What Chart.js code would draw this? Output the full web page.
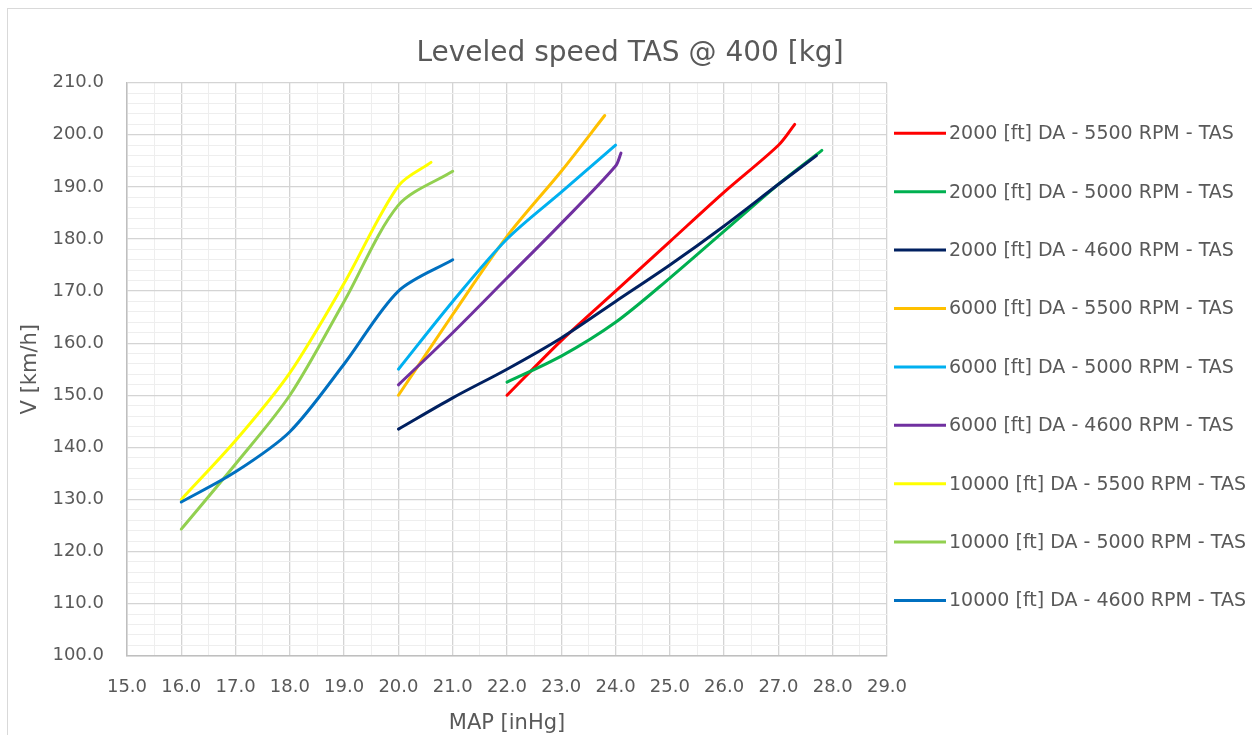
<!DOCTYPE html>
<html>
<head>
<meta charset="utf-8">
<title>Leveled speed TAS @ 400 [kg]</title>
<script src="https://cdn.jsdelivr.net/npm/chart.js@4.4.1/dist/chart.umd.min.js"></script>
<style>
  html, body { margin: 0; padding: 0; background: #ffffff; }
  canvas { display: block; }
</style>
</head>
<body>
<canvas id="chart" width="1252" height="735"></canvas>
<script>
// Series names and colours
const seriesLabels = [
  '2000 [ft] DA - 5500 RPM - TAS',
  '2000 [ft] DA - 5000 RPM - TAS',
  '2000 [ft] DA - 4600 RPM - TAS',
  '6000 [ft] DA - 5500 RPM - TAS',
  '6000 [ft] DA - 5000 RPM - TAS',
  '6000 [ft] DA - 4600 RPM - TAS',
  '10000 [ft] DA - 5500 RPM - TAS',
  '10000 [ft] DA - 5000 RPM - TAS',
  '10000 [ft] DA - 4600 RPM - TAS'
];
const seriesColors = ['#FF0000', '#00B050', '#002060', '#FFC000', '#00B0F0', '#7030A0', '#FFFF00', '#92D050', '#0070C0'];

// Manifold pressure [inHg] and true airspeed [km/h] per series
const map_2000_5500 = [22, 23, 24, 25, 26, 27, 27.3];
const tas_2000_5500 = [150, 160.5, 170, 179.5, 189, 198, 202];
const map_2000_5000 = [22, 23, 24, 25, 26, 27, 27.8];
const tas_2000_5000 = [152.5, 157.5, 164, 172.5, 181.5, 190.5, 197];
const map_2000_4600 = [20, 21, 22, 23, 24, 25, 26, 27, 27.7];
const tas_2000_4600 = [143.5, 149.5, 155, 161, 168, 175, 182.5, 190.5, 196];
const map_6000_5500 = [20, 21, 22, 23, 23.8];
const tas_6000_5500 = [150, 165.5, 180.5, 193, 203.7];
const map_6000_5000 = [20, 21, 22, 23, 24];
const tas_6000_5000 = [155, 168, 180, 189, 198];
const map_6000_4600 = [20, 21, 22, 23, 24, 24.1];
const tas_6000_4600 = [152, 162, 172.5, 183, 194, 196.5];
const map_10000_5500 = [16, 17, 18, 19, 20, 20.6];
const tas_10000_5500 = [130, 141.3, 154.3, 171.5, 190.2, 194.7];
const map_10000_5000 = [16, 17, 18, 19, 20, 21];
const tas_10000_5000 = [124.3, 136.8, 150, 168, 186.5, 193];
const map_10000_4600 = [16, 17, 18, 19, 20, 21];
const tas_10000_4600 = [129.5, 135.3, 143, 156, 170, 176];

// Axis ranges and tick steps
const mapMin = 15, mapMax = 29, mapMajorStep = 1, mapMinorStep = 0.5;
const tasMin = 100, tasMax = 210, tasMajorStep = 10, tasMinorStep = 2;

const seriesMap = [map_2000_5500, map_2000_5000, map_2000_4600, map_6000_5500, map_6000_5000,
                   map_6000_4600, map_10000_5500, map_10000_5000, map_10000_4600];
const seriesTas = [tas_2000_5500, tas_2000_5000, tas_2000_4600, tas_6000_5500, tas_6000_5000,
                   tas_6000_4600, tas_10000_5500, tas_10000_5000, tas_10000_4600];

const FONT = '"DejaVu Sans", sans-serif';
const TEXT = '#595959';
const GRID_MAJOR = '#D4D4D4';
const GRID_MINOR = '#EEEEEE';

const isMultiple = (v, step) => Math.abs(v / step - Math.round(v / step)) < 1e-6;

const datasets = seriesLabels.map((label, i) => ({
  label,
  data: seriesMap[i].map((x, k) => ({ x, y: seriesTas[i][k] })),
  borderColor: seriesColors[i],
  backgroundColor: seriesColors[i],
  borderWidth: 3,
  borderCapStyle: 'round',
  borderJoinStyle: 'round',
  pointRadius: 0,
  pointHoverRadius: 0,
  tension: 0.3,
  fill: false,
  order: seriesLabels.length - i
}));

// White page with a thin frame around the chart object
const chartFrame = {
  id: 'chartFrame',
  beforeDraw(chart) {
    const { ctx, width, height } = chart;
    ctx.save();
    ctx.fillStyle = '#ffffff';
    ctx.fillRect(0, 0, width, height);
    ctx.strokeStyle = '#D9D9D9';
    ctx.lineWidth = 1;
    ctx.strokeRect(7.5, 8.5, width + 10, height + 10);
    ctx.restore();
  }
};

// Legend drawn as short line samples beside the plot
const lineLegend = {
  id: 'lineLegend',
  afterDraw(chart, args, opts) {
    const { ctx, chartArea } = chart;
    ctx.save();
    ctx.font = '19px ' + FONT;
    ctx.textBaseline = 'middle';
    ctx.textAlign = 'left';
    chart.data.datasets.forEach((ds, i) => {
      const y = chartArea.top + opts.firstOffset + i * opts.spacing;
      const x0 = chartArea.right + opts.gap;
      ctx.strokeStyle = ds.borderColor;
      ctx.lineWidth = 3;
      ctx.lineCap = 'butt';
      ctx.beginPath();
      ctx.moveTo(x0, y);
      ctx.lineTo(x0 + opts.lineLength, y);
      ctx.stroke();
      ctx.fillStyle = TEXT;
      ctx.fillText(ds.label, x0 + opts.lineLength + opts.textGap, y + 1);
    });
    ctx.restore();
  }
};

new Chart(document.getElementById('chart'), {
  type: 'line',
  data: { datasets },
  plugins: [chartFrame, lineLegend],
  options: {
    responsive: false,
    animation: false,
    events: [],
    layout: { padding: { left: 8, right: 0, top: 0, bottom: 0 } },
    plugins: {
      legend: { display: false },
      tooltip: { enabled: false },
      title: {
        display: true,
        text: 'Leveled speed TAS @ 400 [kg]',
        color: TEXT,
        font: { family: FONT, size: 28, weight: 'normal', lineHeight: 1.2 },
        padding: { top: 36.5, bottom: 12.6 }
      },
      lineLegend: { firstOffset: 50.6, spacing: 58.4, gap: 7, lineLength: 52, textGap: 3 }
    },
    scales: {
      x: {
        type: 'linear',
        position: 'bottom',
        min: mapMin,
        max: mapMax,
        afterFit: s => { s.height = 79.3; },
        ticks: {
          stepSize: mapMinorStep,
          maxTicksLimit: 1000,
          autoSkip: false,
          maxRotation: 0,
          minRotation: 0,
          padding: 21,
          color: TEXT,
          font: { family: FONT, size: 18 },
          callback: v => isMultiple(v, mapMajorStep) ? v.toFixed(1) : ''
        },
        grid: {
          drawTicks: false,
          lineWidth: c => (c.tick && isMultiple(c.tick.value, mapMajorStep)) ? 1.3 : 1,
          color: c => (c.tick && isMultiple(c.tick.value, mapMajorStep)) ? GRID_MAJOR : GRID_MINOR
        },
        border: { color: '#BFBFBF', width: 1.5 },
        title: {
          display: true,
          text: 'MAP [inHg]',
          color: TEXT,
          font: { family: FONT, size: 21, lineHeight: 1.2 },
          padding: { top: 0, bottom: -1 }
        }
      },
      y: {
        type: 'linear',
        position: 'left',
        min: tasMin,
        max: tasMax,
        afterFit: s => { s.width = 119; },
        ticks: {
          stepSize: tasMinorStep,
          maxTicksLimit: 1000,
          autoSkip: false,
          padding: 23,
          color: TEXT,
          font: { family: FONT, size: 18 },
          callback: v => isMultiple(v, tasMajorStep) ? v.toFixed(1) : ''
        },
        grid: {
          drawTicks: false,
          lineWidth: c => (c.tick && isMultiple(c.tick.value, tasMajorStep)) ? 1.3 : 1,
          color: c => (c.tick && isMultiple(c.tick.value, tasMajorStep)) ? GRID_MAJOR : GRID_MINOR
        },
        border: { color: '#BFBFBF', width: 1.5 },
        title: {
          display: true,
          text: 'V [km/h]',
          color: TEXT,
          font: { family: FONT, size: 21, lineHeight: 1.2 },
          padding: { top: 10.4, bottom: 0 }
        }
      },
      // empty right-hand band that holds the legend column
      legendBand: {
        type: 'linear',
        axis: 'y',
        position: 'right',
        display: true,
        afterFit: s => { s.width = 365; },
        ticks: { display: false },
        grid: { display: false },
        border: { display: false }
      }
    }
  }
});
</script>
</body>
</html>
